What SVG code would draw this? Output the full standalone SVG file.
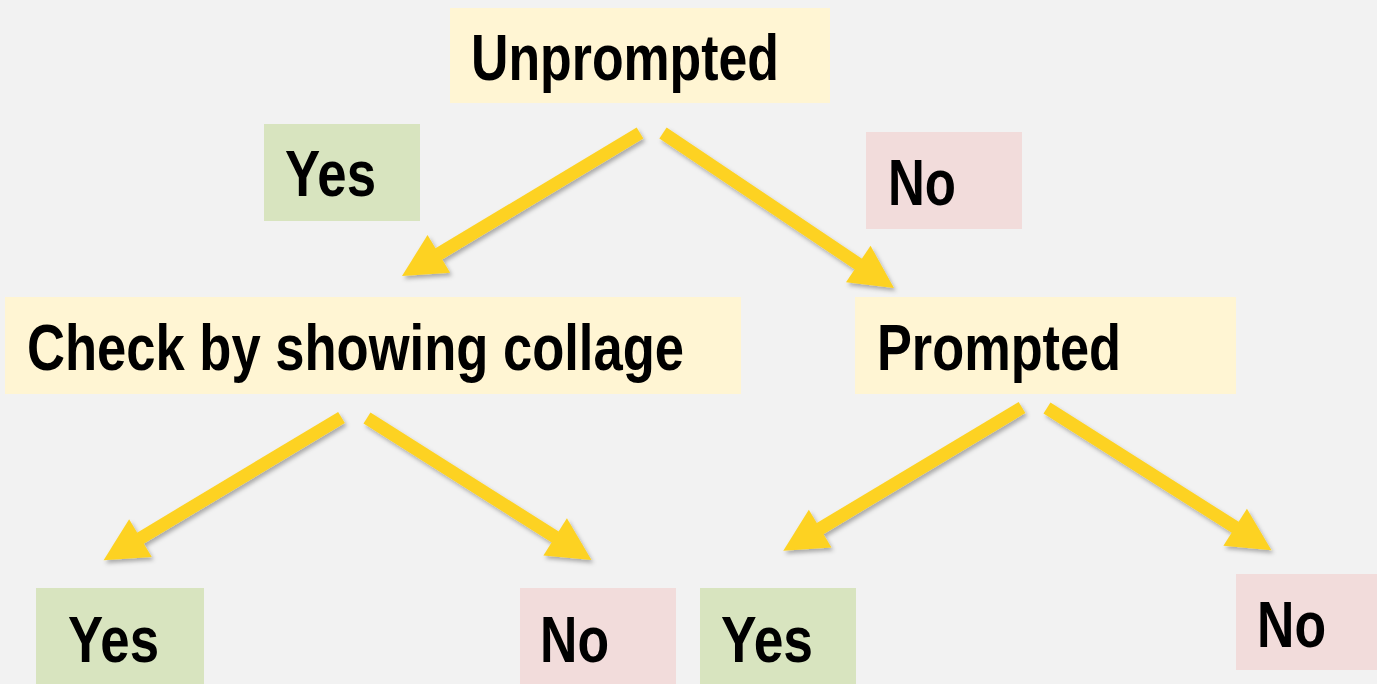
<svg xmlns="http://www.w3.org/2000/svg" width="1377" height="684" viewBox="0 0 1377 684">
  <defs>
    <style>
      .bg { fill: #F2F2F2; }
      .q { fill: #FFF5D3; }
      .yes { fill: #D8E4BF; }
      .no { fill: #F2DCDB; }
      .t { font-family: "Liberation Sans", Arial, sans-serif; font-weight: bold; font-size: 64px; fill: #000; }
      .arrow { stroke: #FDD222; stroke-width: 13; fill: none; stroke-linecap: butt; marker-end: url(#head); }
    </style>
    <marker id="head" markerUnits="userSpaceOnUse" orient="auto" refX="0" refY="0" markerWidth="50" markerHeight="50" overflow="visible">
      <path d="M-1,-22 L42,0 L-1,22 Z" fill="#FDD222"/>
    </marker>
    <filter id="shadow" x="-10%" y="-10%" width="120%" height="120%">
      <feDropShadow dx="2" dy="3" stdDeviation="2" flood-color="#000" flood-opacity="0.3"/>
    </filter>
  </defs>
  <rect class="bg" x="0" y="0" width="1377" height="684"/>

  <g id="connectors" filter="url(#shadow)">
    <line class="arrow" x1="640" y1="133" x2="438" y2="254.4"/>
    <line class="arrow" x1="663" y1="133" x2="859.1" y2="264.6"/>
    <line class="arrow" x1="341.5" y1="417.5" x2="139.6" y2="538.7"/>
    <line class="arrow" x1="367" y1="418" x2="556" y2="537.5"/>
    <line class="arrow" x1="1022" y1="407.5" x2="819.3" y2="529.1"/>
    <line class="arrow" x1="1047" y1="408" x2="1236" y2="527.8"/>
  </g>

  <g id="unprompted">
    <rect class="q" x="450" y="8" width="380" height="95"/>
    <text class="t" x="471" y="80" textLength="308" lengthAdjust="spacingAndGlyphs">Unprompted</text>
  </g>
  <g id="yes-top">
    <rect class="yes" x="264" y="124" width="156" height="97"/>
    <text class="t" x="285" y="196" textLength="91" lengthAdjust="spacingAndGlyphs">Yes</text>
  </g>
  <g id="no-top">
    <rect class="no" x="866" y="132" width="156" height="97"/>
    <text class="t" x="888" y="205" textLength="68" lengthAdjust="spacingAndGlyphs">No</text>
  </g>
  <g id="check">
    <rect class="q" x="5" y="297" width="736" height="97"/>
    <text class="t" x="27" y="370" textLength="657" lengthAdjust="spacingAndGlyphs">Check by showing collage</text>
  </g>
  <g id="prompted">
    <rect class="q" x="855" y="297" width="381" height="97"/>
    <text class="t" x="877" y="370" textLength="244" lengthAdjust="spacingAndGlyphs">Prompted</text>
  </g>
  <g id="yes-bl">
    <rect class="yes" x="36" y="588" width="168" height="96"/>
    <text class="t" x="68" y="662" textLength="91" lengthAdjust="spacingAndGlyphs">Yes</text>
  </g>
  <g id="no-bm">
    <rect class="no" x="520" y="588" width="156" height="96"/>
    <text class="t" x="540" y="662" textLength="69" lengthAdjust="spacingAndGlyphs">No</text>
  </g>
  <g id="yes-br">
    <rect class="yes" x="700" y="588" width="156" height="96"/>
    <text class="t" x="721" y="662" textLength="92" lengthAdjust="spacingAndGlyphs">Yes</text>
  </g>
  <g id="no-br">
    <rect class="no" x="1236" y="574" width="141" height="96"/>
    <text class="t" x="1257" y="647" textLength="69" lengthAdjust="spacingAndGlyphs">No</text>
  </g>
</svg>
